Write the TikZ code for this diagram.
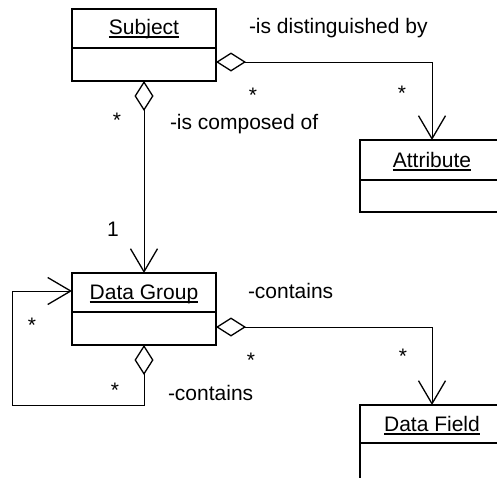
\documentclass[tikz,border=0pt]{standalone}
\usepackage{fontspec}
\setmainfont{Liberation Sans}
\usetikzlibrary{arrows.meta}
\begin{document}
\begin{tikzpicture}[x=1pt,y=-1pt,
  umlbox/.style={draw, line width=1.6pt, minimum width=144pt, minimum height=72pt, inner sep=0pt, outer sep=0pt},
  txt/.style={font=\fontsize{21}{25}\selectfont, inner sep=0pt, outer sep=0pt},
  title/.style={txt, anchor=base},
  lbl/.style={txt, anchor=base west},
  mult/.style={txt, anchor=center},
  conn/.style={line width=1pt, {Diamond[open,length=30pt,width=19pt,line width=1.3pt]}-{Straight Barb[length=23pt,width=27pt,line width=1.3pt]}},
  uline/.style={line width=1.1pt}]
\clip (0,0) rectangle (497,477);
% boxes
\node[umlbox] (subj) at (144,45) {};
\node[umlbox] (attr) at (432,176) {};
\node[umlbox] (dg) at (144,309) {};
\node[umlbox, minimum height=80pt] (df) at (432,445) {};
% dividers
\draw[line width=1.6pt] ([yshift=-39pt]subj.north west) -- ([yshift=-39pt]subj.north east);
\draw[line width=1.6pt] ([yshift=-40pt]attr.north west) -- ([yshift=-40pt]attr.north east);
\draw[line width=1.6pt] ([yshift=-39pt]dg.north west) -- ([yshift=-39pt]dg.north east);
\draw[line width=1.6pt] ([yshift=-38pt]df.north west) -- ([yshift=-38pt]df.north east);
% titles
\node[title] (tsubj) at (144,34) {Subject};
\node[title] (tattr) at (432,167) {Attribute};
\node[title] (tdg) at (144,299) {Data Group};
\node[title] (tdf) at (432,431) {Data Field};
\foreach \t in {tsubj,tattr,tdg,tdf}
  \draw[uline] ([yshift=-3pt]\t.base west) -- ([yshift=-3pt]\t.base east);
% connectors
\draw[conn] ([yshift=-53pt]subj.north east) -| (attr.north);
\draw[conn] (subj.south) -- (dg.north);
\draw[conn] ([yshift=-54pt]dg.north east) -| (df.north);
\coordinate (loop) at (12,405);
\draw[conn] (dg.south) |- (loop) |- ([yshift=-18pt]dg.north west);
% labels
\node[lbl] (l1) at (249,33) {-is distinguished by};
\node[lbl] (l2) at (170,129) {-is composed of};
\node[lbl] (l3) at (248,298) {-contains};
\node[lbl] (l4) at (168,400) {-contains};
% multiplicities
\node[mult] (m1) at (253,95) {*};
\node[mult] (m2) at (402,93) {*};
\node[mult] (m3) at (117,120) {*};
\node[mult] (m4) at (113,229) {1};
\node[mult] (m5) at (32,325) {*};
\node[mult] (m6) at (251,360) {*};
\node[mult] (m7) at (115,390) {*};
\node[mult] (m8) at (403,356) {*};
\end{tikzpicture}
\end{document}
